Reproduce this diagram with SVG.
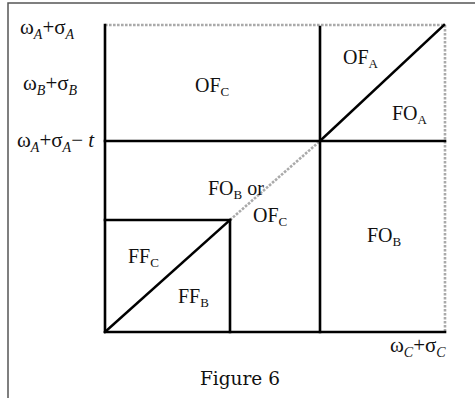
<svg xmlns="http://www.w3.org/2000/svg" width="475" height="398" viewBox="0 0 475 398">
<style>
text{font-family:"Liberation Serif","Times New Roman",serif;fill:#111}
.r{font-size:20px}
.a{font-size:21px}
.s{font-size:13px}
.t{font-size:14px}
.i{font-style:italic}
.k{stroke:#000;stroke-width:2.6;fill:none;stroke-linecap:square}
.d{stroke:#aaa;stroke-width:2.6;fill:none;stroke-dasharray:2.6 1.4}
.f{stroke:#555;stroke-width:1.5;fill:none}
.c{font-family:"DejaVu Serif",serif;font-size:18.5px}
</style>
<rect width="475" height="398" fill="#fff"/>
<path class="f" d="M8,398 V3 H475"/>
<g id="connectors">
<path class="d" d="M105,25 H445 V332"/>
<path class="d" d="M230,220 L320,141"/>
<path class="k" d="M105,25 V332 H445"/>
<path class="k" d="M105,141 H445"/>
<path class="k" d="M320,27 V332"/>
<path class="k" d="M320,141 L444,25"/>
<path class="k" d="M105,220 H230 V332"/>
<path class="k" d="M105,332 L230,220"/>
</g>
<g id="axis-labels">
<text id="yA" class="a" x="20" y="34">ω<tspan class="t i" dy="5">A</tspan><tspan dy="-5">+σ</tspan><tspan class="t i" dy="5">A</tspan></text>
<text id="yB" class="a" x="23" y="90">ω<tspan class="t i" dy="5">B</tspan><tspan dy="-5">+σ</tspan><tspan class="t i" dy="5">B</tspan></text>
<text id="yt" class="a" x="17" y="147">ω<tspan class="t i" dy="5">A</tspan><tspan dy="-5">+σ</tspan><tspan class="t i" dy="5">A</tspan><tspan dy="-5">− </tspan><tspan class="i">t</tspan></text>
<text id="xC" class="a" x="390" y="352">ω<tspan class="t i" dy="5">C</tspan><tspan dy="-5">+σ</tspan><tspan class="t i" dy="5">C</tspan></text>
</g>
<g id="regions">
<text id="OFC1" class="r" x="195" y="92">OF<tspan class="s" dy="4">C</tspan></text>
<text id="OFA" class="r" x="343" y="64">OF<tspan class="s" dy="4">A</tspan></text>
<text id="FOA" class="r" x="392" y="120">FO<tspan class="s" dy="4">A</tspan></text>
<text id="FOBor" class="r" x="208" y="195">FO<tspan class="s" dy="4">B</tspan><tspan dy="-4"> or</tspan></text>
<text id="OFC2" class="r" x="253" y="222">OF<tspan class="s" dy="4">C</tspan></text>
<text id="FOB" class="r" x="367" y="242">FO<tspan class="s" dy="4">B</tspan></text>
<text id="FFC" class="r" x="128" y="263">FF<tspan class="s" dy="4">C</tspan></text>
<text id="FFB" class="r" x="178" y="303">FF<tspan class="s" dy="4">B</tspan></text>
</g>
<text id="caption" class="c" x="200" y="385">Figure 6</text>
</svg>
